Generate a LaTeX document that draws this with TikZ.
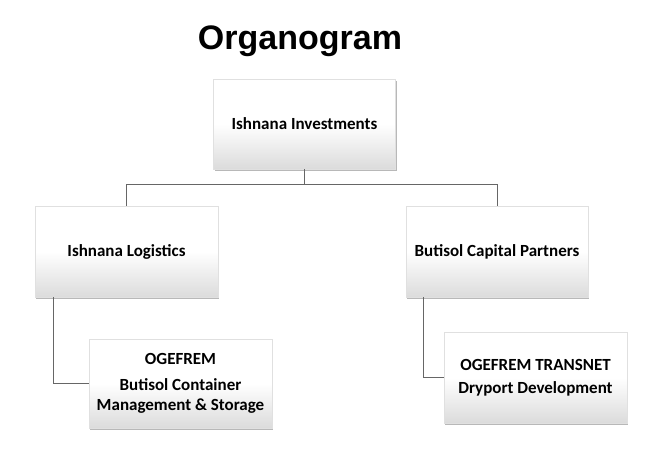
\documentclass[tikz,border=0pt]{standalone}
\usepackage{fontspec}
\setmainfont{Carlito}
\newfontfamily\titlefont{Liberation Sans}
\usetikzlibrary{shadows,calc}
\tikzset{
  orgbox/.style={rectangle, inner sep=0pt, minimum width=183pt, minimum height=90pt,
    draw=black!12, line width=0.4pt,
    top color=white, bottom color=black!14, middle color=white,
    drop shadow={shadow xshift=1.4pt, shadow yshift=-2.4pt, fill=black!55, opacity=0.5},
    align=center, font=\bfseries\fontsize{17}{19.5}\selectfont},
  link/.style={draw=black!60, line width=0.7pt}
}
\begin{document}
\begin{tikzpicture}[x=1pt,y=-1pt]
\useasboundingbox[fill=white] (0,0) rectangle (647,461);
\node[anchor=base, font=\titlefont\bfseries\fontsize{34}{40}\selectfont] (title) at (300,49) {Organogram};

\node[orgbox, minimum width=182pt, minimum height=90pt] (top) at (304.5,124) {Ishnana Investments};
\node[orgbox, minimum height=91pt] (left) at (126.5,251.5) {Ishnana Logistics};
\node[orgbox, minimum width=182pt, minimum height=91pt] (right) at (497,251.5) {Butisol Capital Partners};
\node[orgbox, minimum height=89pt] (ogef) at (180.5,383.5) {OGEFREM\\[6.5pt]Butisol Container\\Management \& Storage};
\node[orgbox, minimum height=91pt] (trans) at (535.5,377.5) {OGEFREM TRANSNET\\[3.5pt]Dryport Development};

\coordinate (bus) at ($(top.south)+(0,15)$);
\coordinate (lfoot) at ($(left.south west)+(19,0)$);
\coordinate (rfoot) at ($(right.south west)+(18,0)$);

\draw[link] (top.south) -- (bus);
\draw[link] (left.north) |- (bus) -| (right.north);
\draw[link] (lfoot) |- (ogef.west);
\draw[link] (rfoot) |- (trans.west);
\end{tikzpicture}
\end{document}
